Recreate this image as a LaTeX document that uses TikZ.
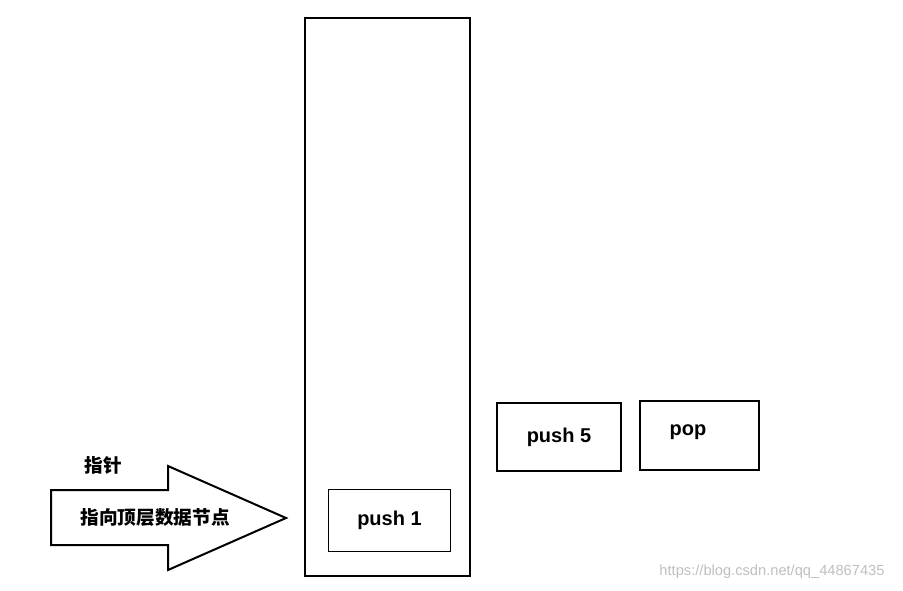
\documentclass[tikz,border=0pt]{standalone}
\usepackage{fontspec}
\setmainfont{Liberation Sans}
\newfontfamily\cjk{Noto Sans CJK SC}
\begin{document}
\begin{tikzpicture}[x=0.75pt,y=-0.75pt]
  \tikzset{opbox/.style={draw,line width=1.5pt},
           lbl/.style={font=\bfseries\fontsize{15}{18}\selectfont}}
  \useasboundingbox (0,0) rectangle (903,590);
  % stack
  \draw[opbox] (305,18) rectangle (470,576);
  \node (p1) [draw,line width=0.8pt,minimum width=92pt,minimum height=46pt] at (389.5,520.5) {};
  \node [lbl] at (p1.center) {push 1};
  \node (p5) [opbox,minimum width=93pt,minimum height=51pt] at (559,437) {};
  \node [lbl] at (p5.center) {push 5};
  \node (pp) [opbox,minimum width=89pt,minimum height=52pt] at (699.5,435.5) {};
  \node [lbl] at (688,432) {pop};
  % pointer arrow
  \draw[line width=1.5pt] (51,490) -- (168,490) -- (168,466) -- (286,518)
    -- (168,570) -- (168,545) -- (51,545) -- cycle;
  \node (ptr) [font=\cjk\bfseries\fontsize{14}{16}\selectfont] at (103,465) {指针};
  \node (desc) [font=\cjk\bfseries\fontsize{14}{16}\selectfont] at (155,517) {指向顶层数据节点};
  \node (wm) [text=gray!50,font=\fontsize{11}{13}\selectfont] at (772,572) {https://blog.csdn.net/qq\_44867435};
\end{tikzpicture}
\end{document}
